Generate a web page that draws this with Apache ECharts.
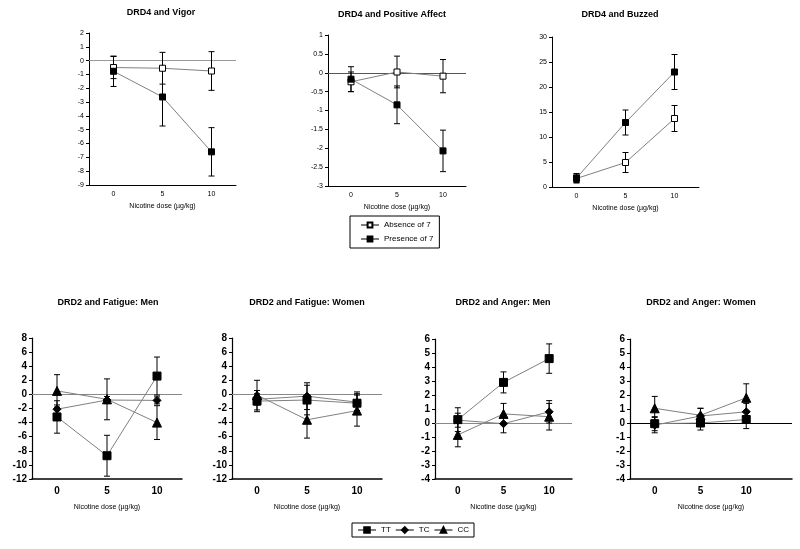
<!DOCTYPE html>
<html><head><meta charset="utf-8">
<script src="https://cdn.jsdelivr.net/npm/echarts@6/dist/echarts.min.js"></script>
<style>html,body{margin:0;padding:0;background:#fff}#c{width:800px;height:549px}</style>
</head><body><div id="c"></div>
<script>
// ---- data ----
const doses = [0, 5, 10];
const doseLabels = ['0', '5', '10'];
const xAxisName = 'Nicotine dose (µg/kg)';

const vigorAbsent = [-0.5, -0.55, -0.75];
const vigorAbsentErr = [0.8, 1.15, 1.4];
const vigorPresent = [-0.77, -2.63, -6.6];
const vigorPresentErr = [1.1, 2.1, 1.75];

const paAbsent = [-0.24, 0.02, -0.09];
const paAbsentErr = [0.26, 0.42, 0.44];
const paPresent = [-0.17, -0.85, -2.07];
const paPresentErr = [0.33, 0.5, 0.55];

const buzzAbsent = [1.7, 4.9, 13.7];
const buzzAbsentErr = [0.9, 2.0, 2.6];
const buzzPresent = [1.8, 12.9, 23.0];
const buzzPresentErr = [0.9, 2.5, 3.5];

const fatMenTT = [-3.2, -8.7, 2.6];   const fatMenTTErr = [2.3, 2.9, 2.7];
const fatMenTC = [-2.1, -0.8, -0.85]; const fatMenTCErr = [0.6, 0.5, 0.5];
const fatMenCC = [0.5, -0.7, -4.0];   const fatMenCCErr = [2.3, 2.9, 2.4];

const fatWomTT = [-0.95, -0.8, -1.25]; const fatWomTTErr = [1.5, 2.1, 1.6];
const fatWomTC = [-0.7, -0.25, -1.1];  const fatWomTCErr = [0.8, 1.9, 1.2];
const fatWomCC = [-0.1, -3.6, -2.3];   const fatWomCCErr = [2.1, 2.6, 2.2];

const angMenTT = [0.24, 2.9, 4.6];   const angMenTTErr = [0.85, 0.75, 1.05];
const angMenTC = [0.2, -0.05, 0.8];  const angMenTCErr = [0.5, 0.65, 0.8];
const angMenCC = [-0.85, 0.65, 0.45]; const angMenCCErr = [0.85, 0.75, 0.95];

const angWomTT = [-0.05, 0.0, 0.25]; const angWomTTErr = [0.5, 0.5, 0.65];
const angWomTC = [-0.15, 0.5, 0.8];  const angWomTCErr = [0.55, 0.55, 0.6];
const angWomCC = [1.05, 0.55, 1.8];  const angWomCCErr = [0.85, 0.5, 1.0];

// ---- styles ----
const FONT = 'Liberation Sans, Arial, sans-serif';
const MARK = {
  'Absence of 7': {symbol: 'rect', fill: '#fff'},
  'Presence of 7': {symbol: 'rect', fill: '#000'},
  'TT': {symbol: 'rect', fill: '#000'},
  'TC': {symbol: 'diamond', fill: '#000'},
  'CC': {symbol: 'triangle', fill: '#000'}
};

const panels = [
  {title: 'DRD4 and Vigor', tx: 161, ty: 8, big: false,
   grid: {left: 89, top: 33, width: 147, height: 152}, ymin: -9, ymax: 2, step: 1, zero: '#999', xmin: -2.5, xmax: 12.5,
   series: [['Absence of 7', vigorAbsent, vigorAbsentErr], ['Presence of 7', vigorPresent, vigorPresentErr]]},
  {title: 'DRD4 and Positive Affect', tx: 392, ty: 10, big: false,
   grid: {left: 328, top: 35, width: 138, height: 151}, ymin: -3, ymax: 1, step: 0.5, zero: '#555', xmin: -2.5, xmax: 12.5,
   series: [['Absence of 7', paAbsent, paAbsentErr], ['Presence of 7', paPresent, paPresentErr]]},
  {title: 'DRD4 and Buzzed', tx: 620, ty: 10, big: false,
   grid: {left: 552, top: 37, width: 147, height: 150}, ymin: 0, ymax: 30, step: 5, zero: null, xmin: -2.5, xmax: 12.5,
   series: [['Absence of 7', buzzAbsent, buzzAbsentErr], ['Presence of 7', buzzPresent, buzzPresentErr]]},
  {title: 'DRD2 and Fatigue: Men', tx: 108, ty: 298, big: true,
   grid: {left: 32, top: 338, width: 150, height: 141}, ymin: -12, ymax: 8, step: 2, zero: '#888', xmin: -2.5, xmax: 12.5,
   series: [['TT', fatMenTT, fatMenTTErr], ['TC', fatMenTC, fatMenTCErr], ['CC', fatMenCC, fatMenCCErr]]},
  {title: 'DRD2 and Fatigue: Women', tx: 307, ty: 298, big: true,
   grid: {left: 232, top: 338, width: 150, height: 141}, ymin: -12, ymax: 8, step: 2, zero: '#888', xmin: -2.5, xmax: 12.5,
   series: [['TT', fatWomTT, fatWomTTErr], ['TC', fatWomTC, fatWomTCErr], ['CC', fatWomCC, fatWomCCErr]]},
  {title: 'DRD2 and Anger: Men', tx: 503, ty: 298, big: true,
   grid: {left: 435, top: 339, width: 137, height: 140}, ymin: -4, ymax: 6, step: 1, zero: '#888', xmin: -2.5, xmax: 12.5,
   series: [['TT', angMenTT, angMenTTErr], ['TC', angMenTC, angMenTCErr], ['CC', angMenCC, angMenCCErr]]},
  {title: 'DRD2 and Anger: Women', tx: 701, ty: 298, big: true,
   grid: {left: 630, top: 339, width: 162, height: 140}, ymin: -4, ymax: 6, step: 1, zero: '#000', xmin: -2.7, xmax: 15,
   series: [['TT', angWomTT, angWomTTErr], ['TC', angWomTC, angWomTCErr], ['CC', angWomCC, angWomCCErr]]}
];

const option = {
  animation: false,
  backgroundColor: '#fff',
  title: [], grid: [], xAxis: [], yAxis: [], series: [],
  legend: [
    {data: ['Absence of 7', 'Presence of 7'], orient: 'vertical', left: 350, top: 216,
     borderColor: '#000', borderWidth: 1, padding: [5, 6, 5, 10], itemGap: 6, itemWidth: 18, itemHeight: 6,
     textStyle: {fontFamily: FONT, fontSize: 8, color: '#000'}, selectedMode: false},
    {data: ['TT', 'TC', 'CC'], orient: 'horizontal', left: 352, top: 523,
     borderColor: '#000', borderWidth: 1, padding: [3, 5, 3, 5], itemGap: 4, itemWidth: 18, itemHeight: 7,
     textStyle: {fontFamily: FONT, fontSize: 8, color: '#000'}, selectedMode: false}
  ]
};

function errBar(params, api) {
  const x = api.value(0), lo = api.value(1), hi = api.value(2);
  const p1 = api.coord([x, hi]), p2 = api.coord([x, lo]);
  const w = 3;
  const st = {stroke: '#000', lineWidth: 1};
  return {type: 'group', children: [
    {type: 'line', shape: {x1: p1[0], y1: p1[1], x2: p2[0], y2: p2[1]}, style: st},
    {type: 'line', shape: {x1: p1[0] - w, y1: p1[1], x2: p1[0] + w, y2: p1[1]}, style: st},
    {type: 'line', shape: {x1: p2[0] - w, y1: p2[1], x2: p2[0] + w, y2: p2[1]}, style: st}
  ]};
}

panels.forEach((p, i) => {
  const big = p.big;
  option.title.push({text: p.title, left: p.tx, top: p.ty, textAlign: 'center', padding: 0,
    textStyle: {fontFamily: FONT, fontSize: 9, fontWeight: 'bold', color: '#000'}});
  option.grid.push(Object.assign({containLabel: false}, p.grid));
  option.xAxis.push({gridIndex: i, type: 'value', min: p.xmin, max: p.xmax,
    axisLine: {show: true, onZero: false, lineStyle: {color: '#000', width: big ? 1.5 : 1}},
    axisTick: {show: false}, splitLine: {show: false},
    axisLabel: {customValues: doses, margin: big ? 7 : 6,
      formatter: v => doseLabels[doses.indexOf(v)] || '',
      fontFamily: FONT, fontSize: big ? 10 : 7, fontWeight: big ? 'bold' : 'normal', color: '#000'},
    name: xAxisName, nameLocation: 'middle', nameGap: big ? 25 : 18,
    nameTextStyle: {fontFamily: FONT, fontSize: 7, color: '#000'}});
  option.yAxis.push({gridIndex: i, type: 'value', min: p.ymin, max: p.ymax, interval: p.step,
    axisLine: {show: true, onZero: false, lineStyle: {color: '#000', width: big ? 1.2 : 1}},
    axisTick: {show: true, length: 3, lineStyle: {color: '#000'}}, splitLine: {show: false},
    axisLabel: {margin: 5, fontFamily: FONT, fontSize: big ? 10 : 7, fontWeight: big ? 'bold' : 'normal', color: '#000'}});
  p.series.forEach((s, k) => {
    const [name, vals, errs] = s;
    const m = MARK[name];
    let size = 6;
    if (big) size = m.symbol === 'rect' ? 8 : (m.symbol === 'triangle' ? 9 : 8);
    const line = {name: name, type: 'line', xAxisIndex: i, yAxisIndex: i, z: 3,
      data: doses.map((d, j) => [d, vals[j]]),
      symbol: m.symbol, symbolSize: size,
      lineStyle: {color: '#808080', width: 1},
      itemStyle: {color: m.fill, borderColor: '#000', borderWidth: 1},
      emphasis: {disabled: true}};
    if (k === 0 && p.zero) {
      line.markLine = {silent: true, symbol: 'none', label: {show: false},
        lineStyle: {color: p.zero, type: 'solid', width: p.zero === '#000' ? 1.2 : 1},
        data: [{yAxis: 0}], z: 1};
    }
    option.series.push(line);
    option.series.push({type: 'custom', xAxisIndex: i, yAxisIndex: i, z: 2,
      renderItem: errBar, encode: {x: 0, y: [1, 2]},
      data: doses.map((d, j) => [d, vals[j] - errs[j], vals[j] + errs[j]])});
  });
});

const chart = echarts.init(document.getElementById('c'), null, {renderer: 'canvas'});
chart.setOption(option);
</script>
</body></html>
